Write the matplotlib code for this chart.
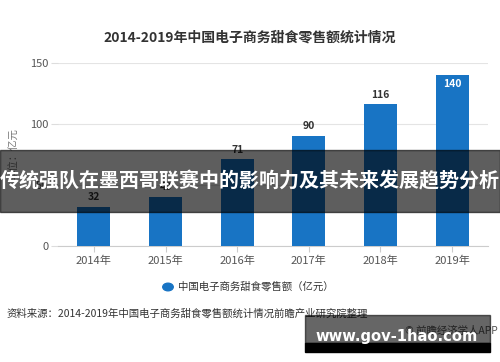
import matplotlib
matplotlib.use("Agg")
import matplotlib.pyplot as plt
from matplotlib.patches import Rectangle

plt.rcParams['font.family'] = ['Noto Sans CJK SC', 'DejaVu Sans']

years = ['2014年', '2015年', '2016年', '2017年', '2018年', '2019年']
sales = [32, 40, 71, 90, 116, 140]
y_ticks = [0, 50, 100, 150]

title = '2014-2019年中国电子商务甜食零售额统计情况'
legend_label = '中国电子商务甜食零售额（亿元）'
unit_label = '单位：亿元'
source = '资料来源：2014-2019年中国电子商务甜食零售额统计情况前瞻产业研究院整理'
copyright_txt = '© 前瞻经济学人APP'
banner_txt = '传统强队在墨西哥联赛中的影响力及其未来发展趋势分析'
site_txt = 'www.gov-1hao.com'

bar_color = '#1874c4'

fig = plt.figure(figsize=(5, 3.62), dpi=100)
fig.patch.set_facecolor('white')
ax = fig.add_axes([0.116, 0.3204, 0.86, 0.5056])

x = range(len(years))
bars = ax.bar(x, sales, width=0.46, color=bar_color, zorder=3)

for i, (b, v) in enumerate(zip(bars, sales)):
    if i == len(sales) - 1:
        ax.text(b.get_x() + b.get_width() / 2, v - 3, str(v), ha='center', va='top',
                fontsize=7.5, color='white', fontweight='bold', zorder=4)
    else:
        ax.text(b.get_x() + b.get_width() / 2, v + 4, str(v), ha='center', va='bottom',
                fontsize=7.5, color='#333333', fontweight='bold', zorder=4)

ax.set_xlim(-0.5, len(years) - 0.5)
ax.set_ylim(0, 150)
ax.set_yticks(y_ticks)
ax.set_yticklabels([str(t) for t in y_ticks])
ax.set_xticks(list(x))
ax.set_xticklabels(years)
ax.yaxis.grid(True, color='#e4e4e4', linewidth=0.8, zorder=0)
ax.set_axisbelow(True)
for s in ['top', 'right', 'left']:
    ax.spines[s].set_visible(False)
ax.spines['bottom'].set_color('#cccccc')
ax.tick_params(axis='y', length=5, color='#dddddd', labelsize=8, labelcolor='#555555', pad=2)
ax.tick_params(axis='x', length=4, color='#cccccc', labelsize=8, labelcolor='#555555', pad=3)
ax.set_ylabel(unit_label, fontsize=7.5, color='#777777', labelpad=10)
ax.yaxis.set_label_coords(-0.09, 0.5)

fig.text(0.5, 0.895, title, ha='center', va='center', fontsize=10,
         fontweight='bold', color='#333333')

# legend
fig.patches.append(plt.Circle((0.336, 1 - 287 / 362), 0.0105, transform=fig.transFigure,
                              color=bar_color))
fig.text(0.356, 1 - 287 / 362, legend_label, ha='left', va='center', fontsize=7.5,
         color='#333333')

fig.text(0.014, 1 - 313 / 362, source, ha='left', va='center', fontsize=7.5, color='#333333')
fig.text(0.995, 1 - 331 / 362, copyright_txt, ha='right', va='center', fontsize=7.5,
         color='#555555')

# overlay banner
fig.patches.append(Rectangle((0, 1 - 212 / 362), 1, 62 / 362, transform=fig.transFigure,
                             color='black', alpha=0.63, zorder=5))
fig.text(0.5, 1 - 181 / 362, banner_txt, ha='center', va='center', fontsize=14.4,
         fontweight='bold', color='white', zorder=6)

# site watermark box
fig.patches.append(Rectangle((305 / 500, 1 - 343 / 362), 185 / 500, 28 / 362,
                             transform=fig.transFigure, color='black', alpha=0.6, zorder=5))
fig.patches.append(Rectangle((305 / 500, 1 - 352 / 362), 185 / 500, 9 / 362,
                             transform=fig.transFigure, color='black', zorder=5))
fig.text(397 / 500, 1 - 336 / 362, site_txt, ha='center', va='center', fontsize=10.6,
         fontweight='bold', color='white', family='DejaVu Sans', zorder=6)

fig.savefig('out.png', dpi=100)
